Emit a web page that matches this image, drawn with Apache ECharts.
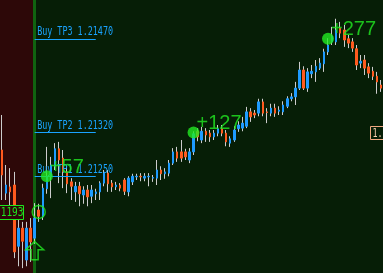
<!DOCTYPE html>
<html><head><meta charset="utf-8">
<script src="https://cdn.jsdelivr.net/npm/echarts@6/dist/echarts.min.js"></script>
<style>html,body{margin:0;padding:0;background:#061e06;overflow:hidden}#c{width:383px;height:273px}</style>
</head><body><div id="c"></div>
<script>
// ---- data (EURUSD-like 5-digit prices) ----
const opens = [1.21292,1.21223,1.21233,1.21236,1.21138,1.21167,1.21116,1.21167,1.21151,1.21196,
1.21185,1.21230,1.21249,1.21266,1.21294,1.21279,1.21257,1.21241,1.21225,1.21234,
1.21220,1.21228,1.21218,1.21222,1.21225,1.21239,1.21255,1.21239,1.21233,1.21236,
1.21244,1.21225,1.21241,1.21249,1.21250,1.21247,1.21249,1.21247,1.21247,1.21260,
1.21254,1.21255,1.21271,1.21289,1.21289,1.21289,1.21276,1.21289,1.21322,1.21308,
1.21322,1.21319,1.21313,1.21319,1.21326,1.21319,1.21303,1.21308,1.21326,1.21327,
1.21330,1.21353,1.21351,1.21351,1.21369,1.21353,1.21351,1.21359,1.21354,1.21353,
1.21362,1.21374,1.21377,1.21391,1.21420,1.21391,1.21414,1.21417,1.21423,1.21430,
1.21449,1.21465,1.21465,1.21487,1.21484,1.21470,1.21465,1.21454,1.21431,1.21436,
1.21425,1.21418,1.21410,1.21396];
const closes = [1.21252,1.21236,1.21225,1.21129,1.21167,1.21146,1.21167,1.21145,1.21183,1.21186,
1.21231,1.21250,1.21268,1.21294,1.21276,1.21257,1.21238,1.21234,1.21234,1.21222,
1.21228,1.21217,1.21228,1.21225,1.21239,1.21255,1.21238,1.21233,1.21236,1.21231,
1.21226,1.21247,1.21250,1.21250,1.21249,1.21250,1.21250,1.21248,1.21260,1.21254,
1.21257,1.21271,1.21289,1.21279,1.21279,1.21281,1.21289,1.21318,1.21313,1.21322,
1.21316,1.21313,1.21319,1.21326,1.21319,1.21305,1.21310,1.21324,1.21332,1.21335,
1.21353,1.21345,1.21348,1.21369,1.21351,1.21352,1.21359,1.21351,1.21356,1.21364,
1.21374,1.21377,1.21391,1.21420,1.21391,1.21417,1.21418,1.21426,1.21431,1.21449,
1.21460,1.21474,1.21484,1.21479,1.21468,1.21463,1.21455,1.21428,1.21434,1.21423,
1.21415,1.21410,1.21401,1.21391];
const highs = [1.21348,1.21268,1.21263,1.21257,1.21180,1.21177,1.21177,1.21183,1.21207,1.21206,
1.21238,1.21297,1.21281,1.21303,1.21305,1.21292,1.21266,1.21247,1.21241,1.21241,
1.21234,1.21236,1.21236,1.21230,1.21242,1.21260,1.21260,1.21244,1.21241,1.21239,
1.21247,1.21250,1.21254,1.21254,1.21255,1.21255,1.21255,1.21252,1.21276,1.21266,
1.21263,1.21276,1.21295,1.21297,1.21308,1.21294,1.21295,1.21322,1.21327,1.21329,
1.21327,1.21324,1.21324,1.21332,1.21332,1.21324,1.21314,1.21330,1.21338,1.21345,
1.21361,1.21359,1.21356,1.21374,1.21374,1.21359,1.21366,1.21366,1.21362,1.21370,
1.21378,1.21383,1.21401,1.21433,1.21426,1.21423,1.21428,1.21436,1.21439,1.21454,
1.21471,1.21489,1.21502,1.21497,1.21492,1.21476,1.21471,1.21460,1.21444,1.21444,
1.21431,1.21425,1.21417,1.21404];
const lows = [1.21212,1.21212,1.21193,1.21119,1.21106,1.21103,1.21106,1.21113,1.21142,1.21177,
1.21180,1.21222,1.21215,1.21260,1.21239,1.21231,1.21223,1.21212,1.21209,1.21202,
1.21206,1.21202,1.21207,1.21212,1.21212,1.21234,1.21225,1.21225,1.21228,1.21226,
1.21220,1.21218,1.21236,1.21244,1.21242,1.21242,1.21234,1.21241,1.21236,1.21244,
1.21246,1.21250,1.21268,1.21273,1.21273,1.21276,1.21271,1.21284,1.21306,1.21303,
1.21305,1.21305,1.21308,1.21314,1.21314,1.21298,1.21297,1.21305,1.21321,1.21322,
1.21327,1.21337,1.21343,1.21346,1.21346,1.21335,1.21346,1.21345,1.21348,1.21348,
1.21359,1.21370,1.21364,1.21388,1.21388,1.21385,1.21407,1.21401,1.21420,1.21417,
1.21444,1.21460,1.21460,1.21471,1.21457,1.21455,1.21449,1.21420,1.21423,1.21412,
1.21407,1.21404,1.21382,1.21385];
const categories = opens.map((_, i) => String(i));

const signalIndex = 8;          // bar where the buy signal fired
const entryPrice = 1.21193;
const arrowPrice = 1.21131;     // signal arrow under the bar
const tpNames = ['Buy TP1', 'Buy TP2', 'Buy TP3'];
const tpPrices = [1.21250, 1.21320, 1.21470];
const hitIndex = [11, 47, 80];
const hitLabels = ['+57', '+127', '+277'];
const lineEndIndex = 23;

// ---- chart ----
const BG = '#061e06', RED = '#2d0808', GREEN = '#22ea22', TPBLUE = '#1aa3ff';
const UP = '#1e9bff', DOWN = '#ff5a1e', WICK = '#cccccc';

const wickData = opens.map((o, i) => [o, closes[i], lows[i], highs[i]]);
const bodyData = opens.map((o, i) => [o, closes[i], Math.min(o, closes[i]), Math.max(o, closes[i])]);

const chart = echarts.init(document.getElementById('c'), null, {renderer: 'canvas'});
const option = {
  animation: false,
  backgroundColor: BG,
  grid: {left: 0, right: 0, top: 0, bottom: 0},
  xAxis: {type: 'category', data: categories, boundaryGap: true, show: false},
  yAxis: {type: 'value', min: 1.210952, max: 1.21532, show: false, splitLine: {show: false}},
  series: [
    {
      type: 'candlestick', name: 'wick', data: wickData, barWidth: 0.2, silent: true, z: 2,
      itemStyle: {color: WICK, color0: WICK, borderColor: WICK, borderColor0: WICK, borderColorDoji: WICK, borderWidth: 1},
      markArea: {silent: true, z: 1, itemStyle: {color: RED, opacity: 1}, data: [[{}, {xAxis: signalIndex}]]},
      markLine: {silent: true, z: 1.5, symbol: 'none', label: {show: false},
        lineStyle: {color: '#106410', width: 3, type: 'solid'}, data: [{xAxis: signalIndex}]}
    },
    {
      type: 'candlestick', name: 'body', data: bodyData, barWidth: 2, silent: true, z: 3,
      itemStyle: {color: UP, color0: DOWN, borderColor: UP, borderColor0: DOWN, borderWidth: 1},
      markLine: {silent: true, symbol: 'none', label: {show: false}, z: 4,
        data: [
          {yAxis: entryPrice, lineStyle: {color: '#1ee61e', width: 1, type: 'solid'}}
        ].concat(tpPrices.map(p => [
          {coord: [signalIndex, p], lineStyle: {color: TPBLUE, width: 1, type: 'solid'}},
          {coord: [lineEndIndex, p]}
        ]))
      }
    },
    {
      type: 'scatter', name: 'hits', z: 8, silent: true,
      data: hitIndex.map((x, i) => [x, tpPrices[i]]),
      symbol: 'circle', symbolSize: 12,
      itemStyle: {color: GREEN},
      label: {show: true, formatter: p => hitLabels[p.dataIndex], position: [9, 7],
        align: 'left', verticalAlign: 'bottom', color: GREEN, fontSize: 20, fontFamily: 'Liberation Sans'}
    },
    {
      type: 'scatter', name: 'entry', z: 7, silent: true,
      data: [[signalIndex + 1, entryPrice]], symbol: 'circle', symbolSize: 13,
      itemStyle: {color: 'rgba(0,0,0,0)', borderColor: GREEN, borderWidth: 1.5}
    },
    {
      type: 'scatter', name: 'arrow', z: 7, silent: true,
      data: [[signalIndex, arrowPrice]],
      symbol: 'path://M9,0L18,8L12.5,8L12.5,18L5.5,18L5.5,8L0,8Z', symbolSize: [18, 18],
      itemStyle: {color: 'rgba(0,0,0,0)', borderColor: GREEN, borderWidth: 1.5}
    }
  ]
};
chart.setOption(option);

// text labels positioned through the chart's own scales
const px = v => chart.convertToPixel({gridIndex: 0}, v);
const monoFont = '12px "DejaVu Sans Mono"';
const els = [];
tpPrices.forEach((p, i) => {
  const pt = px([signalIndex, p]);
  els.push({type: 'text', z: 5, x: pt[0] + 2.5, y: pt[1] - 6.5, scaleX: 0.7,
    style: {text: tpNames[i] + ' ' + p.toFixed(5), font: monoFont, fill: TPBLUE, align: 'left', verticalAlign: 'middle'}});
});
const ep = px([0, entryPrice]);
els.push({type: 'rect', z: 5, shape: {x: -30.5, y: Math.round(ep[1]) - 6.5, width: 54, height: 14},
  style: {fill: RED, stroke: '#1ee61e', lineWidth: 1}});
els.push({type: 'text', z: 6, x: 23.5, y: ep[1] + 0.5, scaleX: 0.79,
  style: {text: entryPrice.toFixed(5), font: monoFont, fill: '#1ee61e', align: 'right', verticalAlign: 'middle'}});
const rp = px([0, tpPrices[1]]);
els.push({type: 'rect', z: 5, shape: {x: 370.5, y: Math.round(rp[1]) - 5.5, width: 40, height: 13},
  style: {fill: BG, stroke: '#f0a880', lineWidth: 1}});
els.push({type: 'text', z: 6, x: 372.5, y: rp[1] + 1, scaleX: 0.7,
  style: {text: tpPrices[1].toFixed(5), font: monoFont, fill: '#f8d0b0', align: 'left', verticalAlign: 'middle'}});
chart.setOption({graphic: {elements: els}});
</script>
</body></html>
